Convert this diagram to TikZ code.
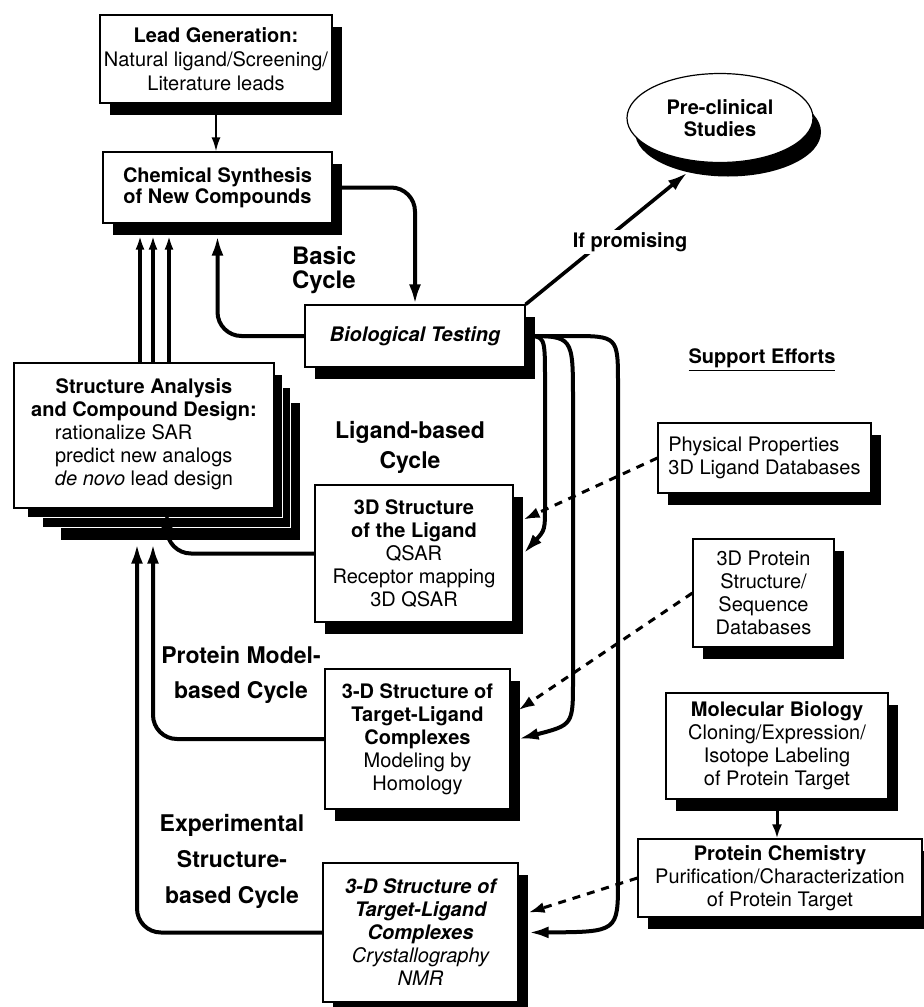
\documentclass[tikz,border=0pt]{standalone}
\usepackage{fontspec}
\setmainfont{TeX Gyre Heros}
\usepackage{tikz}
\usetikzlibrary{arrows.meta, shapes.geometric, shadows, backgrounds}

\begin{document}
\begin{tikzpicture}[x=0.5pt, y=-0.5pt,
    plain/.style={draw, line width=0.6pt, fill=white, align=center, inner sep=2pt,
      font=\fontsize{10}{11.5}\selectfont},
    box/.style={plain, drop shadow={shadow xshift=5pt, shadow yshift=-6pt, opacity=1, fill=black}},
    cyclbl/.style={align=center},
    flow/.style={line width=2pt, -{Latex[length=10pt, width=6pt]}},
    feed/.style={line width=1.5pt, dash pattern=on 4pt off 3.5pt, -{Latex[length=8pt, width=5.5pt]}}]
    \useasboundingbox (0,0) rectangle (924,1007);

    % Main cycle
    \node[box, minimum width=116pt, minimum height=44pt, font=\fontsize{10}{12}\selectfont] (lead) at (216,59)
        {\textbf{Lead Generation:}\\Natural ligand/Screening/\\Literature leads};
    \node[box, minimum width=114.5pt, minimum height=35.5pt, font=\fontsize{10}{10.5}\selectfont\bfseries] (synth) at (217.5,187.5)
        {Chemical Synthesis\\of New Compounds};
    \node[plain, ellipse, minimum width=93pt, minimum height=44.5pt, font=\fontsize{10}{11}\selectfont\bfseries,
        drop shadow={shadow xshift=4pt, shadow yshift=-7pt, opacity=1, fill=black}] (precl) at (720,118)
        {Pre-clinical\\Studies};
    \node[box, minimum width=110pt, minimum height=31pt, font=\fontsize{10}{11.5}\selectfont\bfseries\itshape] (bio) at (415,336)
        {Biological Testing};
    \node[plain, minimum width=130pt, minimum height=72.5pt] (sad) at (144,435.5)
        {\textbf{Structure Analysis}\\\textbf{and Compound Design:}\\
         \begin{tabular}[t]{@{}l@{}}rationalize SAR\\predict new analogs\\\textit{de novo} lead design\end{tabular}};

    % Stacked pages behind the design box
    \begin{scope}[on background layer]
        \foreach \l/\b/\r/\t in {23.5/16/13/20, 14.5/9.5/8/12.5, 7/4.5/4/6}
            \filldraw[fill=black, draw=white, line width=0.4pt]
                ([xshift=\l pt, yshift=-\b pt]sad.south west) rectangle ([xshift=\r pt, yshift=-\t pt]sad.north east);
    \end{scope}

    % Structure boxes
    \node[box, minimum width=99pt, minimum height=68.5pt] (lig) at (414,553.5)
        {\textbf{3D Structure}\\\textbf{of the Ligand}\\QSAR\\Receptor mapping\\3D QSAR};
    \node[box, minimum width=92.5pt, minimum height=70pt] (homol) at (417.5,739)
        {\textbf{3-D Structure of}\\\textbf{Target-Ligand}\\\textbf{Complexes}\\Modeling by\\Homology};
    \node[box, minimum width=97.5pt, minimum height=69.5pt, font=\fontsize{10}{11.5}\selectfont\itshape] (xtal) at (420.5,932.5)
        {\textbf{3-D Structure of}\\\textbf{Target-Ligand}\\\textbf{Complexes}\\Crystallography\\NMR};

    % Support efforts
    \node[font=\fontsize{10}{12}\selectfont\bfseries] (support) at (762,360) {\underline{Support Efforts}};
    \node[box, minimum width=106.5pt, minimum height=35pt, align=left] (phys) at (764.5,458)
        {Physical Properties\\3D Ligand Databases};
    \node[box, minimum width=70.5pt, minimum height=54pt] (pdb) at (763.5,593)
        {3D Protein\\Structure/\\Sequence\\Databases};
    \node[box, minimum width=111pt, minimum height=53pt] (molbio) at (777,746)
        {\textbf{Molecular Biology}\\Cloning/Expression/\\Isotope Labeling\\of Protein Target};
    \node[box, minimum width=142pt, minimum height=39pt] (protchem) at (780,878)
        {\textbf{Protein Chemistry}\\Purification/Characterization\\of Protein Target};

    % Cycle labels
    \node[font=\fontsize{12}{12}\selectfont\bfseries, align=left, anchor=west] (basic) at (285,270) {Basic\\Cycle};
    \node[cyclbl, font=\fontsize{11.5}{15}\selectfont\bfseries] (ligcyc) at (410,447) {Ligand-based\\Cycle};
    \node[cyclbl, font=\fontsize{11.5}{17.5}\selectfont\bfseries] (protcyc) at (241,675) {Protein Model-\\based Cycle};
    \node[cyclbl, font=\fontsize{11.5}{18}\selectfont\bfseries] (expcyc) at (232,861) {Experimental\\Structure-\\based Cycle};

    % Connectors
    \coordinate (synbase) at ([yshift=-6pt]synth.south);
    \coordinate (sadbase) at ([yshift=-17.5pt]sad.south);
    \draw[line width=1pt, -{Latex[length=7pt, width=4.5pt]}] (lead.south) -- (lead.south |- synth.north);
    \draw[flow, rounded corners=12pt] (synth.east) -| (bio.north);
    \draw[flow, rounded corners=12pt] (bio.west) -| (synbase);
    \foreach \x in {140,153,169}
        \draw[line width=2pt, -{Latex[length=7pt, width=4.5pt]}] (sad.north -| \x,0) -- (synbase -| \x,0);
    \draw[line width=1.8pt, -{Latex[length=10pt, width=6pt]}] (bio.north east) -- ([xshift=4pt, yshift=-7pt]precl.225);
    \node[fill=white, inner sep=1pt, font=\fontsize{10}{12}\selectfont\bfseries] (ifprom) at (630,242) {If promising};

    \draw[flow, rounded corners=12pt] (lig.west) -| (sad.south -| 167,0);
    \draw[flow, rounded corners=12pt] (homol.west) -| (sadbase -| 153,0);
    \draw[flow, rounded corners=12pt] (xtal.west) -| (sadbase -| 137,0);

    \draw[flow] (bio.east) .. controls (545,336) .. (545,380) -- (545,505)
        .. controls (545,530) .. ([xshift=5pt]lig.east);
    \draw[flow] (bio.east) .. controls (573,336) .. (573,400) -- (573,680)
        .. controls (573,725) .. ([xshift=4pt]homol.east);
    \draw[flow] (bio.east) -- (570,336) .. controls (618,336) .. (618,385) -- (618,880)
        .. controls (618,932) .. ([xshift=5pt]xtal.east);

    \draw[feed] (phys.west) -- ([xshift=5pt, yshift=17pt]lig.east);
    \draw[feed] (pdb.west) -- ([xshift=4pt, yshift=14.5pt]homol.east);
    \draw[feed] (protchem.west) -- ([xshift=5pt, yshift=10pt]xtal.east);
    \draw[line width=1.5pt, -{Latex[length=7pt, width=5pt]}] (molbio.south) -- (molbio.south |- protchem.north);
\end{tikzpicture}
\end{document}
